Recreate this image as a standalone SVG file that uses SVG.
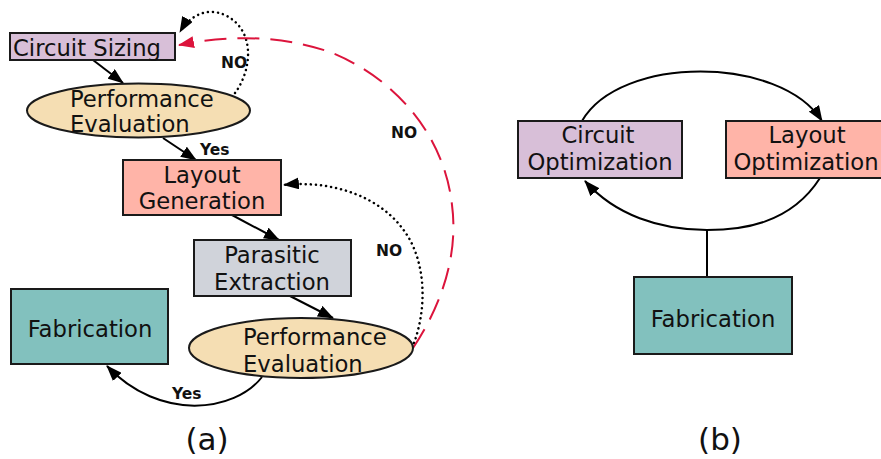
<svg xmlns="http://www.w3.org/2000/svg" width="881" height="459" viewBox="0 0 881 459">
<defs>
<marker id="ah" viewBox="0 0 16 12" refX="15" refY="6" markerWidth="16" markerHeight="12" markerUnits="userSpaceOnUse" orient="auto">
<path d="M0,0 L16,6 L0,12 z" fill="#000"/>
</marker>
<marker id="ahr" viewBox="0 0 16 12" refX="15" refY="6" markerWidth="16" markerHeight="12" markerUnits="userSpaceOnUse" orient="auto">
<path d="M0,0 L16,6 L0,12 z" fill="#dc143c"/>
</marker>
<style>
.n{stroke:#1a1a1a;stroke-width:2}
.t{font-family:"DejaVu Sans",sans-serif;font-size:22.7px;fill:#111}
.c{text-anchor:middle}
.lb{font-family:"DejaVu Sans",sans-serif;font-size:15.5px;font-weight:bold;fill:#111}
.e{fill:none;stroke:#000;stroke-width:2}
.d{fill:none;stroke:#000;stroke-width:2.5;stroke-dasharray:0.1 5;stroke-linecap:round}
.r{fill:none;stroke:#dc143c;stroke-width:2;stroke-dasharray:22 11}
.cap{font-family:"DejaVu Sans",sans-serif;font-size:31px;fill:#111;text-anchor:middle}
</style>
</defs>
<g id="connectors">
<line class="e" x1="93" y1="60" x2="123" y2="83" marker-end="url(#ah)"/>
<line class="e" x1="163" y1="138" x2="196" y2="160" marker-end="url(#ah)"/>
<line class="e" x1="232" y1="215" x2="279" y2="240" marker-end="url(#ah)"/>
<line class="e" x1="290" y1="296" x2="333" y2="318" marker-end="url(#ah)"/>
<path class="e" d="M262,377 C235,412 160,422 107,366" marker-end="url(#ah)"/>
<path class="d" d="M235,93 C252,70 256,30 225,15 C205,6 188,18 180,32" marker-end="url(#ah)"/>
<path class="d" d="M414,343 C426,310 426,270 410,240 C385,195 330,180 284,185" marker-end="url(#ah)"/>
<path class="r" d="M413,348 C445,300 458,250 452,205 C445,140 400,80 330,52 C280,35 230,35 179,45" marker-end="url(#ahr)"/>
<text class="lb" x="221" y="68">NO</text>
<text class="lb" x="391" y="138">NO</text>
<text class="lb" x="376" y="256">NO</text>
<text class="lb" x="200" y="155">Yes</text>
<text class="lb" x="172" y="399">Yes</text>
<path class="e" d="M582,121 C620,55 780,55 822,121" marker-end="url(#ah)"/>
<path class="e" d="M820,178 C790,225 740,230 707,230 C660,230 615,215 585,181" marker-end="url(#ah)"/>
<line class="e" x1="707" y1="230" x2="707" y2="277"/>
</g>
<g id="circuit-sizing">
<rect class="n" x="10" y="33" width="165" height="27" fill="#d8bfd8"/>
<text class="t" x="13" y="56">Circuit Sizing</text>
</g>
<g id="perf-eval-1">
<ellipse class="n" cx="138.5" cy="110.5" rx="111.5" ry="27" fill="#f5deb3"/>
<text class="t" x="70" y="107">Performance</text>
<text class="t" x="70" y="132">Evaluation</text>
</g>
<g id="layout-generation">
<rect class="n" x="123" y="160" width="158" height="55" fill="#ffb4a8"/>
<text class="t c" x="202" y="183">Layout</text>
<text class="t c" x="202" y="209">Generation</text>
</g>
<g id="parasitic-extraction">
<rect class="n" x="194" y="240" width="157" height="56" fill="#d0d3da"/>
<text class="t c" x="272" y="263">Parasitic</text>
<text class="t c" x="272" y="290">Extraction</text>
</g>
<g id="perf-eval-2">
<ellipse class="n" cx="301" cy="348" rx="112" ry="30" fill="#f5deb3"/>
<text class="t" x="243" y="345">Performance</text>
<text class="t" x="243" y="372">Evaluation</text>
</g>
<g id="fabrication-a">
<rect class="n" x="11" y="289" width="157" height="75" fill="#82c1be"/>
<text class="t c" x="90" y="337">Fabrication</text>
</g>
<g id="circuit-optimization">
<rect class="n" x="518" y="121" width="164" height="57" fill="#d8bfd8"/>
<text class="t c" x="598" y="143">Circuit</text>
<text class="t c" x="600" y="170">Optimization</text>
</g>
<g id="layout-optimization">
<rect class="n" x="726" y="121" width="160" height="57" fill="#ffb4a8"/>
<text class="t c" x="807" y="143">Layout</text>
<text class="t c" x="806" y="170">Optimization</text>
</g>
<g id="fabrication-b">
<rect class="n" x="634" y="277" width="158" height="77" fill="#82c1be"/>
<text class="t c" x="713" y="327">Fabrication</text>
</g>
<text class="cap" x="207" y="450">(a)</text>
<text class="cap" x="720" y="450">(b)</text>
</svg>
